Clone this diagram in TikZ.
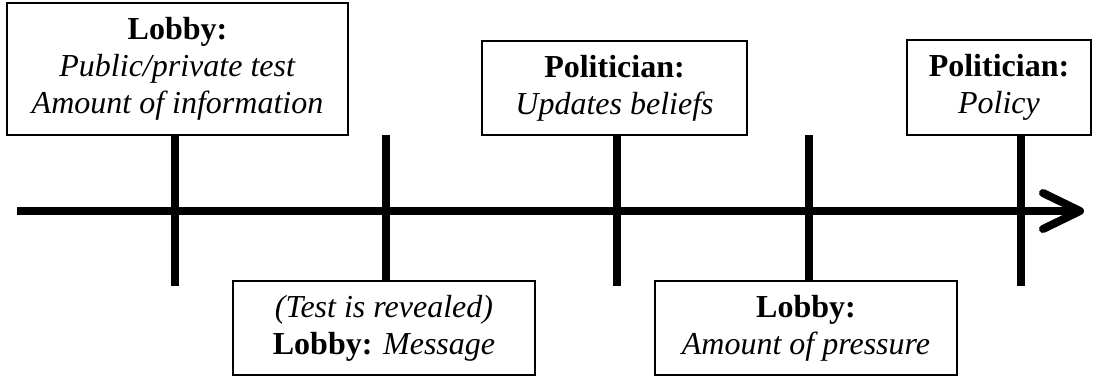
\documentclass[tikz,border=0pt]{standalone}
\usepackage{fontspec}
\setmainfont{Liberation Serif}
\begin{document}
\begin{tikzpicture}[x=1pt,y=-1pt,
  evbox/.style={draw=black,line width=2pt,fill=white,inner sep=0pt,align=center,
    font=\fontsize{32}{37}\selectfont},
  tick/.style={line width=8pt,line cap=butt},
  axisline/.style={line width=8pt,line cap=butt},
  chev/.style={line width=8pt,line cap=round,line join=round}]
\useasboundingbox (0,0) rectangle (1096,376);
% ticks
\foreach \n/\x in {a/175,b/386,c/617,d/809,e/1021}{
  \coordinate (\n top) at (\x,135);
  \coordinate (\n bot) at (\x,286);
  \draw[tick] (\n top) -- (\n bot);
}
% axis
\coordinate (axstart) at (17,211);
\coordinate (axend) at (1078,211);
\coordinate (chup) at (1043,193);
\coordinate (chtip) at (1080,211);
\coordinate (chlo) at (1043,229);
\draw[axisline] (axstart) -- (axend);
\draw[chev] (chup) -- (chtip) -- (chlo);
% boxes
\node[evbox,minimum width=341pt,minimum height=132pt] (b1) at (177.5,69)
  {\textbf{Lobby:}\\ \textit{Public/private test}\\ \textit{Amount of information}};
\node[evbox,minimum width=265pt,minimum height=94pt] (b3) at (614.5,88)
  {\textbf{Politician:}\\ \textit{Updates beliefs}};
\node[evbox,minimum width=184pt,minimum height=95pt] (b4) at (999,87.5)
  {\textbf{Politician:}\\ \textit{Policy}};
\node[evbox,minimum width=302pt,minimum height=94pt] (b2) at (384,328)
  {\textit{(Test is revealed)}\\ \textbf{Lobby:} \textit{Message}};
\node[evbox,minimum width=302pt,minimum height=94pt] (b5) at (806,328)
  {\textbf{Lobby:}\\ \textit{Amount of pressure}};
\end{tikzpicture}
\end{document}
